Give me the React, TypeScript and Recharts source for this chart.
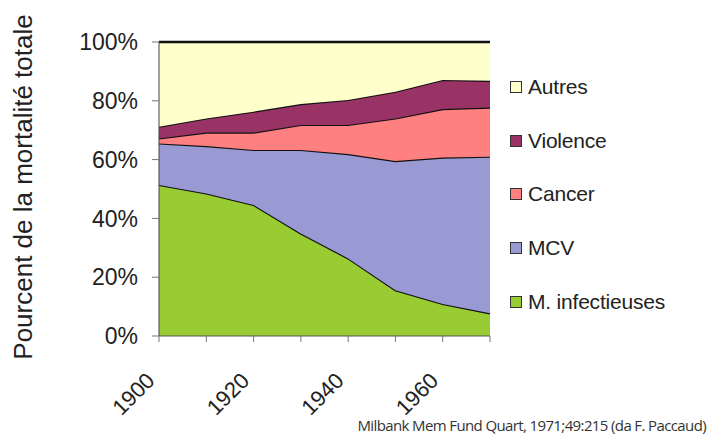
import React from 'react'
import { AreaChart, Area, XAxis, YAxis, Legend, Label } from 'recharts'

// Mortalité par cause (part du total)
const years = [1900, 1910, 1920, 1930, 1940, 1950, 1960, 1970]
const infectieuses = [51.4, 48.5, 44.6, 34.9, 26.4, 15.6, 10.9, 7.7]
const mcv = [14.1, 16.1, 18.7, 28.4, 35.5, 43.9, 49.8, 53.3]
const cancer = [1.7, 4.6, 5.9, 8.5, 9.9, 14.5, 16.5, 16.7]
const violence = [4.0, 4.8, 7.1, 7.1, 8.5, 9.1, 9.9, 9.1]
const autres = [28.8, 26.0, 23.7, 21.1, 19.7, 16.9, 12.9, 13.2]

const xTicks = [1900, 1910, 1920, 1930, 1940, 1950, 1960, 1970]
const xLabels = [1900, 1920, 1940, 1960]
const yTicks = [0, 0.2, 0.4, 0.6, 0.8, 1]

const series = [
  { key: 'infectieuses', name: 'M. infectieuses', color: '#99cc33' },
  { key: 'mcv', name: 'MCV', color: '#9999d4' },
  { key: 'cancer', name: 'Cancer', color: '#ff8080' },
  { key: 'violence', name: 'Violence', color: '#993366' },
  { key: 'autres', name: 'Autres', color: '#ffffcc' },
]

const data = years.map((year, i) => ({
  year,
  infectieuses: infectieuses[i],
  mcv: mcv[i],
  cancer: cancer[i],
  violence: violence[i],
  autres: autres[i],
}))

const FONT = '"Liberation Sans", Arial, sans-serif'

const XTick = ({ x, y, payload }: any) => {
  if (!xLabels.includes(payload.value)) return null
  const ax = x - 3
  const ay = y + 40
  return (
    <text
      x={ax}
      y={ay}
      textAnchor="end"
      fontSize={22}
      fontFamily={FONT}
      fill="#222"
      transform={`rotate(-45, ${ax}, ${ay})`}
    >
      {payload.value}
    </text>
  )
}

const LegendBox = () => (
  <div style={{ fontFamily: FONT, fontSize: 21, color: '#222', letterSpacing: -0.2 }}>
    {[...series].reverse().map((s) => (
      <div key={s.key} style={{ height: 53.8, display: 'flex', alignItems: 'center' }}>
        <span
          style={{
            width: 10,
            height: 10,
            background: s.color,
            border: '1.5px solid #333',
            marginRight: 6,
            display: 'inline-block',
          }}
        />
        <span>{s.name}</span>
      </div>
    ))}
  </div>
)

export default function App() {
  return (
    <div style={{ position: 'absolute', left: 0, top: 0, width: 711, height: 441, background: '#fff' }}>
      <AreaChart
        width={711}
        height={441}
        data={data}
        stackOffset="expand"
        margin={{ top: 42, right: 221, bottom: 0, left: 0 }}
      >
        <XAxis
          dataKey="year"
          type="number"
          domain={[1900, 1970]}
          ticks={xTicks}
          interval={0}
          height={105}
          tickSize={6}
          tickMargin={0}
          axisLine={{ stroke: '#555' }}
          tickLine={{ stroke: '#777' }}
          tick={<XTick />}
        />
        <YAxis
          type="number"
          domain={[0, 1]}
          ticks={yTicks}
          width={159}
          tickSize={7}
          tickMargin={14}
          axisLine={{ stroke: '#444' }}
          tickLine={{ stroke: '#777' }}
          tickFormatter={(v: number) => `${Math.round(v * 100)}%`}
          tick={{ fontSize: 23, fontFamily: FONT, fill: '#222' }}
        >
          <Label
            content={() => (
              <text
                x={32}
                y={187}
                textAnchor="middle"
                fontSize={26}
                fontFamily={FONT}
                fill="#222"
                transform="rotate(-90, 32, 187)"
              >
                Pourcent de la mortalité totale
              </text>
            )}
          />
        </YAxis>
        <YAxis
          yAxisId="right"
          orientation="right"
          width={0}
          tick={false}
          tickLine={false}
          axisLine={{ stroke: '#999' }}
        />
        {series.map((s) => (
          <Area
            key={s.key}
            type="linear"
            dataKey={s.key}
            name={s.name}
            stackId="1"
            fill={s.color}
            fillOpacity={1}
            stroke="#111"
            strokeWidth={2.3}
            isAnimationActive={false}
          />
        ))}
        <Legend
          layout="horizontal"
          align="center"
          verticalAlign="middle"
          content={<LegendBox />}
          wrapperStyle={{ left: 510, top: 60, width: 200, height: 270 }}
        />
        <text
          x={706}
          y={431}
          textAnchor="end"
          fontSize={15}
          fontFamily='"Open Sans", sans-serif'
          fill="#333"
          letterSpacing={-0.62}
        >
          Milbank Mem Fund Quart, 1971;49:215 (da F. Paccaud)
        </text>
      </AreaChart>
    </div>
  )
}
